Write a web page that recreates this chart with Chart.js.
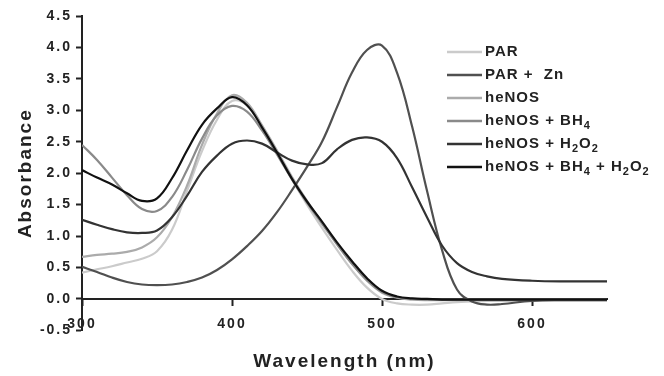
<!DOCTYPE html>
<html>
<head>
<meta charset="utf-8">
<script src="https://cdn.jsdelivr.net/npm/chart.js@4.4.1/dist/chart.umd.min.js"></script>
<style>
  html, body { margin: 0; padding: 0; background: #fff; }
</style>
</head>
<body>
<canvas id="spectra" width="664" height="376"></canvas>
<script>
// wavelength grid (nm)
const wavelengths = [300,310,320,330,340,350,360,370,380,390,400,410,420,430,440,450,460,470,480,490,500,510,520,530,540,550,560,570,580,600,620,650];

// absorbance values
const par          = [0.42,0.47,0.52,0.58,0.64,0.76,1.10,1.72,2.35,2.85,3.15,3.08,2.75,2.32,1.90,1.50,1.13,0.78,0.45,0.18,0.00,-0.07,-0.09,-0.09,-0.07,-0.05,-0.04,-0.03,-0.03,-0.02,-0.02,-0.02];
const parZn        = [0.51,0.43,0.34,0.27,0.23,0.22,0.23,0.27,0.34,0.46,0.63,0.84,1.08,1.38,1.73,2.10,2.50,3.05,3.60,3.96,4.03,3.60,2.75,1.72,0.78,0.15,-0.04,-0.09,-0.08,-0.03,-0.02,-0.02];
const heNOS        = [0.67,0.70,0.72,0.75,0.82,0.98,1.30,1.80,2.45,2.95,3.24,3.12,2.76,2.36,1.94,1.56,1.21,0.88,0.56,0.29,0.10,0.02,-0.01,-0.02,-0.02,-0.02,-0.02,-0.02,-0.02,-0.02,-0.02,-0.02];
const heNOSBH4     = [2.45,2.21,1.93,1.65,1.43,1.40,1.62,2.05,2.55,2.92,3.07,2.98,2.68,2.30,1.90,1.53,1.20,0.87,0.56,0.30,0.11,0.03,0.00,-0.01,-0.01,-0.01,-0.01,-0.01,-0.01,-0.01,-0.01,-0.01];
const heNOSH2O2    = [1.26,1.18,1.11,1.06,1.05,1.09,1.30,1.64,2.02,2.28,2.47,2.52,2.47,2.33,2.20,2.14,2.16,2.38,2.53,2.57,2.50,2.24,1.78,1.30,0.85,0.57,0.43,0.36,0.32,0.29,0.28,0.28];
const heNOSBH4H2O2 = [2.05,1.93,1.82,1.68,1.56,1.60,1.92,2.36,2.77,3.03,3.21,3.08,2.73,2.33,1.91,1.55,1.23,0.90,0.60,0.33,0.13,0.04,0.01,0.00,-0.01,-0.01,-0.01,-0.01,-0.01,-0.01,-0.01,-0.01];

const seriesNames = ['PAR', 'PAR +  Zn', 'heNOS', 'heNOS + BH_4', 'heNOS + H_2O_2', 'heNOS + BH_4 + H_2O_2'];
const seriesData = [par, parZn, heNOS, heNOSBH4, heNOSH2O2, heNOSBH4H2O2];
const seriesColors = ['#cbcbcb', '#505050', '#ababab', '#8a8a8a', '#333333', '#111111'];
const drawOrder = [5, 3, 4, 2, 1, 0];

const yTicks = [-0.5, 0, 0.5, 1, 1.5, 2, 2.5, 3, 3.5, 4, 4.5];
const xTicks = [300, 400, 500, 600];

const FONT = "'Liberation Sans', Arial, sans-serif";

// wider letter spacing like the original figure
const spacingPlugin = {
  id: 'spacing',
  beforeUpdate(chart) { chart.ctx.letterSpacing = '2px'; },
  beforeDraw(chart) { chart.ctx.letterSpacing = '2px'; }
};

// legend with subscripts (BH4, H2O2)
const subLegend = {
  id: 'subLegend',
  afterDraw(chart) {
    const ctx = chart.ctx;
    ctx.save();
    ctx.letterSpacing = '1px';
    ctx.textBaseline = 'middle';
    ctx.fillStyle = '#222';
    seriesNames.forEach((name, i) => {
      const y = 52 + i * 23;
      ctx.strokeStyle = seriesColors[i];
      ctx.lineWidth = 2.5;
      ctx.beginPath();
      ctx.moveTo(447, y);
      ctx.lineTo(482, y);
      ctx.stroke();
      let x = 485;
      const parts = name.split(/(_\d)/).filter(p => p.length);
      parts.forEach(p => {
        const sub = p[0] === '_';
        const txt = sub ? p.slice(1) : p;
        ctx.font = sub ? 'bold 11px ' + FONT : 'bold 15px ' + FONT;
        ctx.fillText(txt, x, sub ? y + 5 : y);
        x += ctx.measureText(txt).width;
      });
    });
    ctx.restore();
  }
};

new Chart(document.getElementById('spectra').getContext('2d'), {
  type: 'line',
  data: {
    datasets: seriesNames.map((name, i) => ({
      label: name,
      data: wavelengths.map((w, j) => ({ x: w, y: seriesData[i][j] })),
      borderColor: seriesColors[i],
      borderWidth: 2.2,
      pointRadius: 0,
      fill: false,
      tension: 0.4,
      order: drawOrder[i]
    }))
  },
  options: {
    responsive: false,
    animation: false,
    layout: { padding: { left: 0, right: 57, top: 16, bottom: 45.6 } },
    plugins: {
      legend: { display: false },
      tooltip: { enabled: false }
    },
    scales: {
      x: {
        type: 'linear',
        position: { y: 0 },
        min: 300,
        max: 650,
        afterBuildTicks: scale => { scale.ticks = xTicks.map(v => ({ value: v })); },
        ticks: {
          color: '#222',
          font: { family: FONT, size: 14, weight: 'bold' },
          padding: 11,
          maxRotation: 0
        },
        grid: { drawOnChartArea: false, drawTicks: true, tickLength: 6, tickWidth: 2, color: '#222' },
        border: { color: '#222', width: 2 },
        title: {
          display: true,
          text: 'Wavelength (nm)',
          color: '#222',
          font: { family: FONT, size: 19, weight: 'bold' },
          padding: 0
        },
        afterFit: scale => { scale.height = 74; }
      },
      y: {
        min: -0.5,
        max: 4.5,
        afterBuildTicks: scale => { scale.ticks = yTicks.map(v => ({ value: v })); },
        ticks: {
          color: '#222',
          font: { family: FONT, size: 14, weight: 'bold' },
          padding: 4,
          callback: v => v.toFixed(1)
        },
        grid: { drawOnChartArea: false, drawTicks: true, tickLength: 6, tickWidth: 2, color: '#222' },
        border: { color: '#222', width: 2 },
        title: {
          display: true,
          text: 'Absorbance',
          color: '#222',
          font: { family: FONT, size: 19, weight: 'bold' },
          padding: { top: 14, bottom: 0 }
        },
        afterFit: scale => { scale.width = 82; }
      }
    }
  },
  plugins: [spacingPlugin, subLegend]
});
</script>
</body>
</html>
